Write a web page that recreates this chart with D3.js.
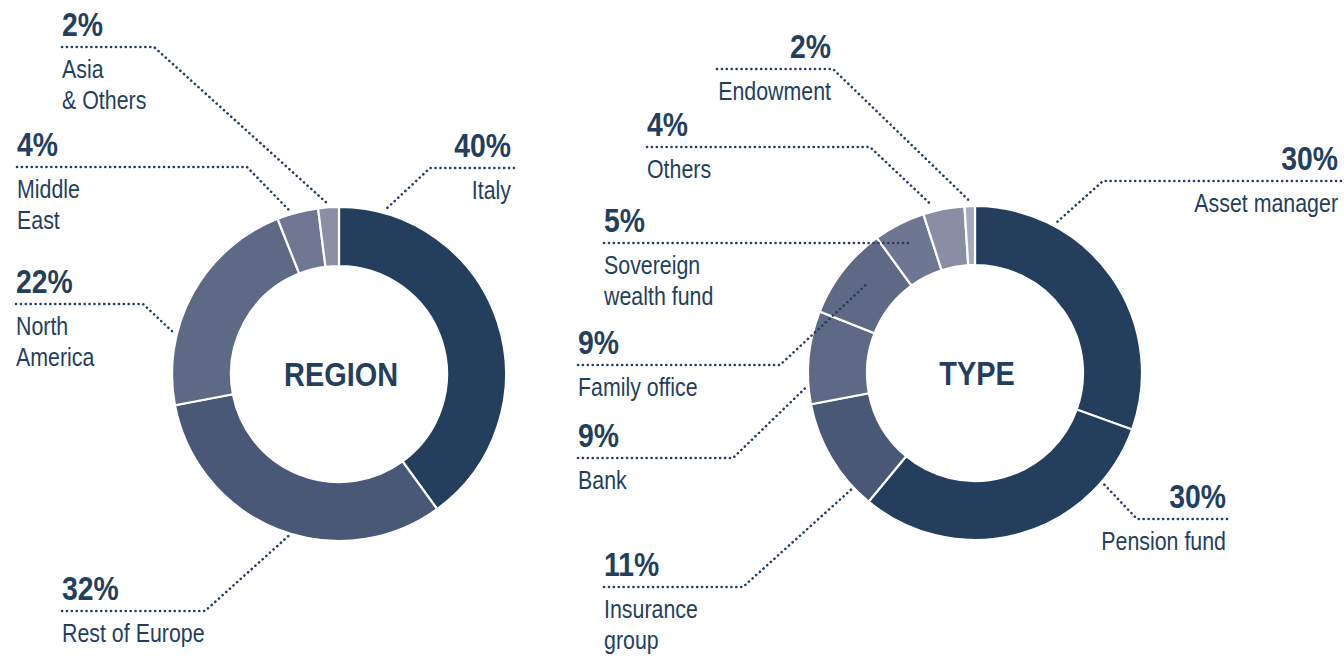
<!DOCTYPE html>
<html>
<head>
<meta charset="utf-8">
<script src="https://cdn.jsdelivr.net/npm/d3@7"></script>
<style>
  body { margin: 0; background: #fff; }
  svg text { font-family: "Liberation Sans", Arial, sans-serif; fill: #243f5e; }
</style>
</head>
<body>
<div class="canvas"></div>
<script>
// data
const regionNames = ['Italy', 'Rest of Europe', 'North America', 'Middle East', 'Asia & Others'];
const regionShares = [40, 32, 22, 4, 2];
const regionPct = ['40%', '32%', '22%', '4%', '2%'];
const regionLines = [['Italy'], ['Rest of Europe'], ['North', 'America'], ['Middle', 'East'], ['Asia', '& Others']];

const typeNames = ['Asset manager', 'Pension fund', 'Insurance group', 'Bank', 'Family office', 'Sovereign wealth fund', 'Others', 'Endowment'];
const typeShares = [30.5, 30.5, 11, 9, 9, 5, 4, 1];
const typePct = ['30%', '30%', '11%', '9%', '9%', '5%', '4%', '2%'];
const typeLines = [['Asset manager'], ['Pension fund'], ['Insurance', 'group'], ['Bank'], ['Family office'], ['Sovereign', 'wealth fund'], ['Others'], ['Endowment']];

// styles
const regionColors = ['#243f5e', '#4a5878', '#5e6985', '#6f7792', '#8b8fa6'];
const typeColors = ['#243f5e', '#243f5e', '#4a5878', '#5e6985', '#5e6985', '#6e7792', '#8a8ea5', '#a6aabc'];

// label layout: text x, anchor, leader y, horizontal span, elbow x, point inside slice (t) and radius
const regionLayout = [
    { tx: 511, anchor: 'end',   ly: 168, x0: 430, x1: 514, ex: 430, t: 0.11, r: 171 },
    { tx: 62,  anchor: 'start', ly: 611, x0: 62,  x1: 205, ex: 205, t: 0.46, r: 168 },
    { tx: 16,  anchor: 'start', ly: 304, x0: 16,  x1: 143, ex: 143, t: 0.31, r: 169 },
    { tx: 17,  anchor: 'start', ly: 167, x0: 17,  x1: 247, ex: 247, t: 0.35, r: 169 },
    { tx: 62,  anchor: 'start', ly: 47,  x0: 62,  x1: 154, ex: 154, t: 0.5,  r: 170 }
];
const typeLayout = [
    { tx: 1338, anchor: 'end',   ly: 181, x0: 1103, x1: 1341, ex: 1103, t: 0.26, r: 172 },
    { tx: 1226, anchor: 'end',   ly: 519, x0: 1137, x1: 1227, ex: 1137, t: 0.19, r: 167 },
    { tx: 604,  anchor: 'start', ly: 587, x0: 604,  x1: 743,  ex: 743,  t: 0.18, r: 168 },
    { tx: 578,  anchor: 'start', ly: 458, x0: 578,  x1: 733,  ex: 733,  t: 0.18, r: 170 },
    { tx: 578,  anchor: 'start', ly: 365, x0: 578,  x1: 780,  ex: 780,  t: 0.56, r: 140 },
    { tx: 604,  anchor: 'start', ly: 243, x0: 604,  x1: 909,  ex: 909,  t: 0.5,  r: 146 },
    { tx: 647,  anchor: 'start', ly: 147, x0: 647,  x1: 870,  ex: 870,  t: 0.25, r: 173 },
    { tx: 831,  anchor: 'end',   ly: 69,  x0: 717,  x1: 833,  ex: 833,  t: 0.5,  r: 172 }
];

const svg = d3.select('.canvas')
    .append('svg')
    .attr('width', 1344)
    .attr('height', 657);

const innerR = 108;
const outerR = 167;

// squeeze Arial metrics to look like a narrow face
function narrowText(parent, x, y, anchor, size, weight, sx) {
    return parent.append('text')
        .attr('transform', `translate(${x}, ${y}) scale(${sx}, 1)`)
        .attr('text-anchor', anchor)
        .attr('font-size', size)
        .attr('font-weight', weight);
}

function drawDonut(cx, cy, title, names, shares, pct, lines, colors, layout) {
    const pie = d3.pie().sort(null).value(d => d)(shares);
    const arc = d3.arc().innerRadius(innerR).outerRadius(outerR);

    const g = svg.append('g')
        .attr('transform', `translate(${cx}, ${cy})`);

    g.selectAll('path')
        .data(pie)
        .enter()
        .append('path')
        .attr('d', arc)
        .attr('fill', (d, i) => colors[i])
        .attr('stroke', '#fff')
        .attr('stroke-width', 2.2);

    narrowText(g, 2, 12, 'middle', 34, 'bold', 0.85).text(title);

    // leaders and labels
    pie.forEach((d, i) => {
        const L = layout[i];
        const a = d.startAngle + L.t * (d.endAngle - d.startAngle);
        const px = cx + L.r * Math.sin(a);
        const py = cy - L.r * Math.cos(a);
        const far = L.ex === L.x0 ? L.x1 : L.x0;

        svg.append('path')
            .attr('d', d3.line()([[far, L.ly], [L.ex, L.ly], [px, py]]))
            .attr('fill', 'none')
            .attr('stroke', '#243f5e')
            .attr('stroke-width', 2.6)
            .attr('stroke-linecap', 'round')
            .attr('stroke-dasharray', '0.1 4.8');

        narrowText(svg, L.tx, L.ly - 11, L.anchor, 33, 'bold', 0.86).text(pct[i]);

        const t = narrowText(svg, L.tx, L.ly + 31, L.anchor, 25, 'normal', 0.855);
        lines[i].forEach((s, j) => {
            t.append('tspan')
                .attr('x', 0)
                .attr('y', j * 31.5)
                .text(s);
        });
    });
}

drawDonut(339, 374, 'REGION', regionNames, regionShares, regionPct, regionLines, regionColors, regionLayout);
drawDonut(975, 373, 'TYPE', typeNames, typeShares, typePct, typeLines, typeColors, typeLayout);
</script>
</body>
</html>
